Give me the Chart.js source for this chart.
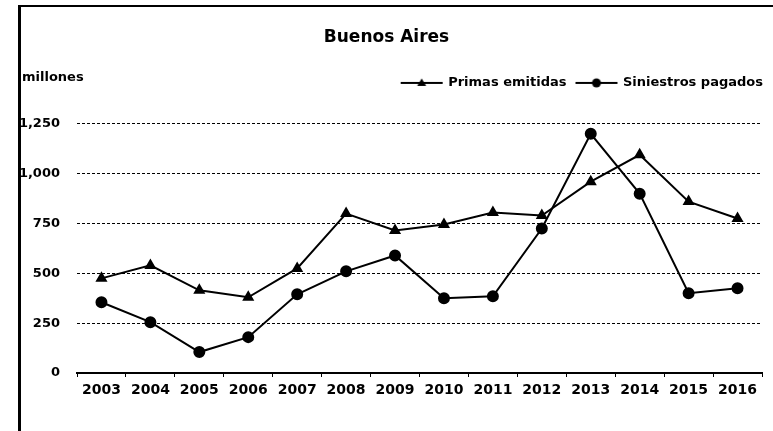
<!DOCTYPE html>
<html>
<head>
<meta charset="utf-8">
<script src="https://cdn.jsdelivr.net/npm/chart.js@4.4.1/dist/chart.umd.min.js"></script>
<style>
    html, body { margin: 0; padding: 0; background: #fff; }
    #wrap { position: relative; width: 773px; height: 431px; }
</style>
</head>
<body>
<div id="wrap"><canvas id="chart-ba" width="773" height="431"></canvas></div>
<script>

    // Data

    var years = ['2003', '2004', '2005', '2006', '2007', '2008', '2009',
                 '2010', '2011', '2012', '2013', '2014', '2015', '2016'];
    var primasEmitidas = [475, 540, 415, 380, 525, 800, 715, 745, 805, 790, 960, 1095, 860, 775];
    var siniestrosPagados = [355, 255, 105, 180, 395, 510, 590, 375, 385, 725, 1200, 900, 400, 425];
    var yTicks = [0, 250, 500, 750, 1000, 1250];

    var FONT = '"DejaVu Sans", "Liberation Sans", Arial, sans-serif';


    // Legend swatch: short line with the marker in the middle

    function swatch(style) {
        var c = document.createElement('canvas');
        c.width = 48;
        c.height = 12;
        var ctx = c.getContext('2d');
        ctx.strokeStyle = '#000';
        ctx.lineWidth = 2;
        ctx.beginPath();
        ctx.moveTo(3, 6);
        ctx.lineTo(45, 6);
        ctx.stroke();
        ctx.fillStyle = '#000';
        ctx.beginPath();
        if (style === 'triangle') {
            ctx.moveTo(24, 1.5);
            ctx.lineTo(28.5, 9);
            ctx.lineTo(19.5, 9);
            ctx.closePath();
        } else {
            ctx.arc(24, 6, 4.5, 0, Math.PI * 2);
        }
        ctx.fill();
        return c;
    }


    // Frame and unit label

    var extras = {
        id: 'extras',
        beforeDraw: function (chart) {
            var ctx = chart.ctx;
            ctx.save();
            ctx.strokeStyle = '#000';
            ctx.lineWidth = 3;
            ctx.beginPath();
            ctx.moveTo(19.5, 5);
            ctx.lineTo(19.5, 431);
            ctx.stroke();
            ctx.lineWidth = 2;
            ctx.beginPath();
            ctx.moveTo(18, 6);
            ctx.lineTo(773, 6);
            ctx.stroke();
            ctx.fillStyle = '#000';
            ctx.font = 'bold 13px ' + FONT;
            ctx.textBaseline = 'middle';
            ctx.textAlign = 'left';
            ctx.fillText('millones', 22, 78);
            ctx.restore();
        }
    };


    // Chart

    var lineChart = new Chart(document.getElementById('chart-ba'), {
        type: 'line',
        data: {
            labels: years,
            datasets: [{
                label: 'Primas emitidas',
                data: primasEmitidas,
                borderColor: '#000',
                backgroundColor: '#000',
                borderWidth: 2,
                pointStyle: 'triangle',
                pointRadius: 5,
                pointBackgroundColor: '#000',
                pointBorderColor: '#000',
                tension: 0
            }, {
                label: 'Siniestros pagados',
                data: siniestrosPagados,
                borderColor: '#000',
                backgroundColor: '#000',
                borderWidth: 2,
                pointStyle: 'circle',
                pointRadius: 5,
                pointBackgroundColor: '#000',
                pointBorderColor: '#000',
                tension: 0
            }]
        },
        options: {
            responsive: false,
            animation: false,
            devicePixelRatio: 1,
            layout: { padding: 0 },
            plugins: {
                title: {
                    display: true,
                    text: 'Buenos Aires',
                    color: '#000',
                    font: { family: FONT, size: 17, weight: 'bold' },
                    padding: { top: 27, bottom: 19 }
                },
                legend: {
                    position: 'top',
                    align: 'end',
                    labels: {
                        color: '#000',
                        font: { family: FONT, size: 13, weight: 'bold' },
                        usePointStyle: true,
                        pointStyleWidth: 40,
                        padding: 10,
                        generateLabels: function (chart) {
                            return chart.data.datasets.map(function (ds, i) {
                                return {
                                    text: ds.label,
                                    pointStyle: swatch(ds.pointStyle),
                                    fillStyle: '#000',
                                    strokeStyle: '#000',
                                    lineWidth: 0,
                                    hidden: false,
                                    datasetIndex: i
                                };
                            });
                        }
                    }
                },
                tooltip: { enabled: false }
            },
            scales: {
                x: {
                    offset: true,
                    grid: {
                        display: true,
                        drawOnChartArea: false,
                        drawTicks: true,
                        tickLength: 4,
                        color: '#000',
                        lineWidth: 1,
                        offset: true
                    },
                    border: { display: true, color: '#000', width: 2 },
                    ticks: {
                        color: '#000',
                        padding: 5,
                        maxRotation: 0,
                        autoSkip: false,
                        font: { family: FONT, size: 14, weight: 'bold' }
                    },
                    afterFit: function (s) { s.height = 58; }
                },
                y: {
                    min: 0,
                    max: 1250,
                    afterBuildTicks: function (s) {
                        s.ticks = yTicks.map(function (v) { return { value: v }; });
                    },
                    grid: {
                        color: '#000',
                        lineWidth: 1,
                        drawTicks: false
                    },
                    border: { display: false, dash: [3, 2] },
                    ticks: {
                        color: '#000',
                        padding: 17,
                        font: { family: FONT, size: 13, weight: 'bold' },
                        callback: function (v) { return v.toLocaleString('en-US'); }
                    },
                    afterFit: function (s) { s.width = 77; }
                },
                topSpacer: {
                    type: 'linear',
                    position: 'top',
                    display: true,
                    grid: { display: false, drawTicks: false },
                    border: { display: false },
                    ticks: { display: false },
                    afterFit: function (s) { s.height = 24.5; }
                },
                rightSpacer: {
                    type: 'linear',
                    position: 'right',
                    display: true,
                    grid: { display: false, drawTicks: false },
                    border: { display: false },
                    ticks: { display: false },
                    afterFit: function (s) { s.width = 11; }
                }
            }
        },
        plugins: [extras]
    });

</script>
</body>
</html>
